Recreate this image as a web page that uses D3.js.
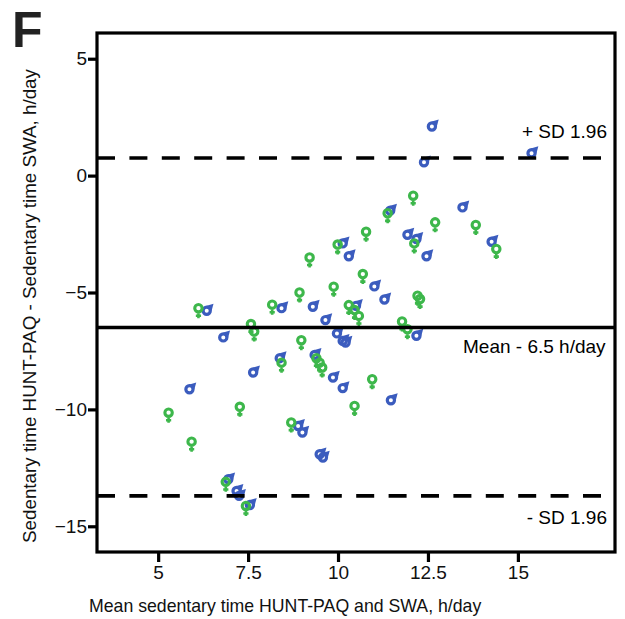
<!DOCTYPE html>
<html>
<head>
<meta charset="utf-8">
<script src="https://cdn.jsdelivr.net/npm/d3@7/dist/d3.min.js"></script>
<style>
  html, body { margin: 0; padding: 0; background: #fff; }
  svg { display: block; font-family: "Liberation Sans", Arial, Helvetica, sans-serif; }
</style>
</head>
<body>
<svg id="chart" width="625" height="619"></svg>
<script>
// Bland-Altman: HUNT-PAQ vs SWA sedentary time (h/day)
const menX = [12.61, 12.39, 15.38, 11.45, 13.46, 11.93, 12.18, 12.46, 14.27, 10.13,
              10.30, 11.01, 11.29, 10.50, 8.43, 9.30, 6.35, 9.65, 6.81, 9.97,
              10.13, 10.21, 12.18, 8.38, 9.35, 7.64, 9.86, 10.13, 5.87, 11.47,
              8.89, 9.01, 9.49, 9.58, 6.95, 7.18, 7.25, 7.55];
const menY = [2.10, 0.57, 0.96, -1.50, -1.36, -2.53, -2.71, -3.45, -2.83, -2.90,
              -3.45, -4.74, -5.30, -5.57, -5.67, -5.61, -5.78, -6.18, -6.92, -6.75,
              -7.07, -7.14, -6.85, -7.81, -7.67, -8.42, -8.64, -9.09, -9.14, -9.61,
              -10.71, -10.99, -11.92, -12.06, -12.99, -13.49, -13.70, -14.09];

const womenX = [12.09, 11.38, 12.70, 13.83, 10.78, 12.12, 14.40, 9.99, 9.21, 10.69,
                9.88, 8.93, 12.21, 12.28, 10.30, 10.46, 10.58, 8.17, 6.12, 7.58,
                7.67, 11.78, 11.93, 8.98, 8.43, 9.40, 9.49, 9.56, 7.27, 10.46,
                5.29, 8.70, 10.95, 5.93, 6.88, 7.44];
const womenY = [-0.86, -1.61, -2.00, -2.11, -2.40, -2.90, -3.14, -2.95, -3.50, -4.21,
                -4.75, -5.00, -5.14, -5.28, -5.54, -5.75, -6.00, -5.52, -5.67, -6.35,
                -6.67, -6.24, -6.57, -7.04, -8.00, -7.81, -8.00, -8.21, -9.89, -9.85,
                -10.14, -10.56, -8.71, -11.38, -13.10, -14.13];

// Mean difference and limits of agreement
const meanDiff = -6.5;
const upperLoA = 0.75;
const lowerLoA = -13.7;

const xTicks = [5, 7.5, 10, 12.5, 15];
const yTicks = [5, 0, -5, -10, -15];

const svg = d3.select("#chart");
const plotL = 97, plotR = 615, plotT = 33, plotB = 552;

const x = d3.scaleLinear().domain([3.3, 17.7]).range([plotL, plotR]);
const y = d3.scaleLinear().domain([-16.1, 6.1]).range([plotB, plotT]);

const blue = "#3b5cbe";
const green = "#3db74b";

// panel letter
svg.append("text").attr("x", 12).attr("y", 47)
  .attr("font-size", 50).attr("font-weight", "bold").attr("fill", "#222").text("F");

// points: men (male symbol) first, women (female symbol) drawn over
const menData = menX.map((v, i) => ({x: v, y: menY[i]}));
const womenData = womenX.map((v, i) => ({x: v, y: womenY[i]}));

const men = svg.append("g").selectAll("g").data(menData).join("g")
  .attr("transform", d => `translate(${x(d.x)},${y(d.y)})`);
men.append("path")
  .attr("d", "M4.9,0 L0,-4.9 L6.8,-6.9 Z")
  .attr("fill", blue);
men.append("circle").attr("r", 3.6)
  .attr("fill", "none").attr("stroke", blue).attr("stroke-width", 3.2);

const women = svg.append("g").selectAll("g").data(womenData).join("g")
  .attr("transform", d => `translate(${x(d.x)},${y(d.y)})`);
women.append("circle").attr("r", 3.7)
  .attr("fill", "none").attr("stroke", green).attr("stroke-width", 3.1);
women.append("path")
  .attr("d", "M0,5 L0,10 M-2.6,7.6 L2.6,7.6")
  .attr("stroke", green).attr("stroke-width", 2.6).attr("fill", "none");

// reference lines
svg.append("line")
  .attr("x1", plotL).attr("x2", plotR)
  .attr("y1", y(meanDiff)).attr("y2", y(meanDiff))
  .attr("stroke", "#000").attr("stroke-width", 3.5);
[upperLoA, lowerLoA].forEach(v => {
  svg.append("line")
    .attr("x1", plotL).attr("x2", plotR)
    .attr("y1", y(v)).attr("y2", y(v))
    .attr("stroke", "#000").attr("stroke-width", 3.6)
    .attr("stroke-dasharray", "18,14.4");
});

svg.append("text").attr("x", 607).attr("y", y(upperLoA) - 20)
  .attr("text-anchor", "end").attr("font-size", 19).text("+ SD 1.96");
svg.append("text").attr("x", 463).attr("y", y(meanDiff) + 25)
  .attr("font-size", 19).text("Mean - 6.5 h/day");
svg.append("text").attr("x", 607).attr("y", y(lowerLoA) + 28)
  .attr("text-anchor", "end").attr("font-size", 19).text("- SD 1.96");

// frame
svg.append("rect")
  .attr("x", plotL).attr("y", plotT)
  .attr("width", plotR - plotL).attr("height", plotB - plotT)
  .attr("fill", "none").attr("stroke", "#000").attr("stroke-width", 3.2);

// axes
const yAxis = svg.append("g").attr("transform", `translate(${plotL},0)`)
  .call(d3.axisLeft(y).tickValues(yTicks).tickSize(9).tickPadding(1)
    .tickFormat(d3.format("d")));
const xAxis = svg.append("g").attr("transform", `translate(0,${plotB})`)
  .call(d3.axisBottom(x).tickValues(xTicks).tickSize(10).tickPadding(4)
    .tickFormat(d => String(d)));
[yAxis, xAxis].forEach(a => {
  a.select(".domain").remove();
  a.selectAll(".tick line").attr("stroke", "#000").attr("stroke-width", 3.2);
  a.selectAll(".tick text").attr("font-size", 19).attr("fill", "#111")
    .attr("font-family", "'Liberation Sans', Arial, sans-serif");
});

// axis titles
svg.append("text").attr("x", 89).attr("y", 612)
  .attr("font-size", 17.7).attr("fill", "#111")
  .text("Mean sedentary time HUNT-PAQ and SWA, h/day");
svg.append("text")
  .attr("transform", "translate(36,306) rotate(-90)")
  .attr("text-anchor", "middle").attr("font-size", 18.8).attr("fill", "#111")
  .text("Sedentary time HUNT-PAQ - Sedentary time SWA, h/day");
</script>
</body>
</html>
